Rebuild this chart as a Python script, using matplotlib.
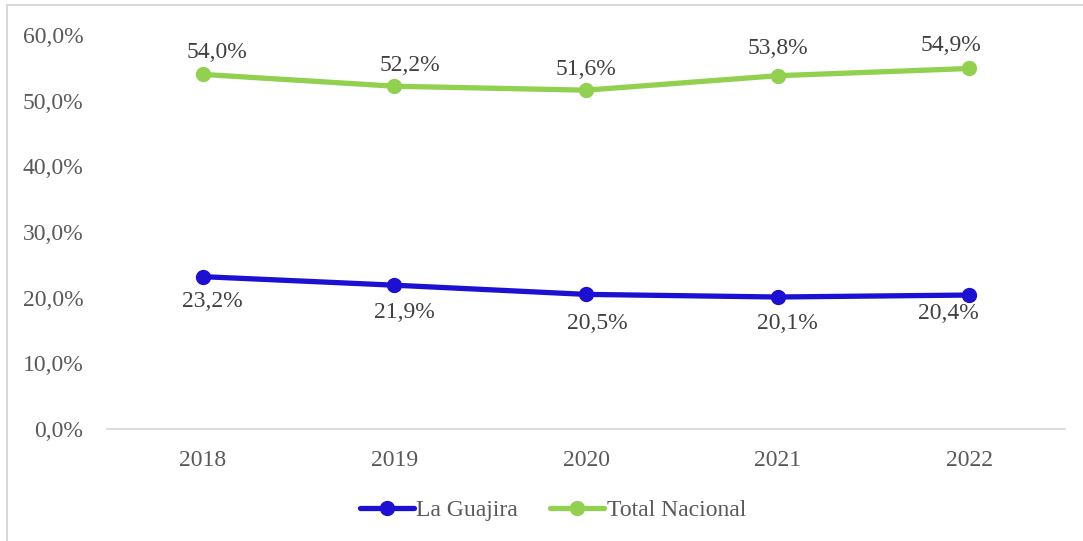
import matplotlib.pyplot as plt
from matplotlib.patches import Rectangle

years = ["2018", "2019", "2020", "2021", "2022"]
guajira = [23.2, 21.9, 20.5, 20.1, 20.4]
nacional = [54.0, 52.2, 51.6, 53.8, 54.9]

blue = "#1C10D2"
green = "#92D050"
text_gray = "#595959"

plt.rcParams["font.family"] = ["Liberation Serif", "DejaVu Serif"]

fig = plt.figure(figsize=(10.83, 5.41), dpi=100)
ax = fig.add_axes([107 / 1083, 1 - 429 / 541, 958 / 1083, 394 / 541])

x = list(range(len(years)))
ax.plot(x, guajira, color=blue, lw=3.8, marker="o", ms=10,
        solid_capstyle="round", label="La Guajira")
ax.plot(x, nacional, color=green, lw=3.8, marker="o", ms=10,
        solid_capstyle="round", label="Total Nacional")

# label offsets in points (dx, dy)
g_off = [(7, -18), (7, -20), (8, -21), (7, -19), (-15, -13)]
n_off = [(10, 15.5), (11, 15), (0, 15), (0, 19.5), (-13, 16.5)]
for i, v in enumerate(guajira):
    ax.annotate(f"{v:.1f}%".replace(".", ","), (i, v), xytext=g_off[i],
                textcoords="offset points", ha="center", va="center",
                fontsize=17, color="#404040")
for i, v in enumerate(nacional):
    ax.annotate(f"{v:.1f}%".replace(".", ","), (i, v), xytext=n_off[i],
                textcoords="offset points", ha="center", va="center",
                fontsize=17, color="#404040")

ax.set_xlim(-0.5, 4.5)
ax.set_ylim(0, 60)
ax.set_yticks(range(0, 61, 10))
ax.set_yticklabels([f"{t},0%" for t in range(0, 61, 10)])
ax.set_xticks(x)
ax.set_xticklabels(years)
ax.tick_params(length=0, labelsize=17, labelcolor=text_gray)
ax.tick_params(axis="y", pad=17)
ax.tick_params(axis="x", pad=15)
for s in ["top", "right", "left"]:
    ax.spines[s].set_visible(False)
ax.spines["bottom"].set_color("#D9D9D9")
ax.spines["bottom"].set_linewidth(1.3)

leg = fig.legend(loc="center", bbox_to_anchor=(553 / 1083, 1 - 510 / 541),
                 ncol=2, frameon=False, fontsize=17, handlelength=2.3,
                 handletextpad=0.1, columnspacing=1.35)
for t in leg.get_texts():
    t.set_color(text_gray)

fig.patches.append(Rectangle((7 / 1083, -0.1), 1.2, 1 - 5 / 541 + 0.1,
                             transform=fig.transFigure, fill=False,
                             edgecolor="#D9D9D9", lw=1.5))

fig.savefig("out.png", dpi=100)
